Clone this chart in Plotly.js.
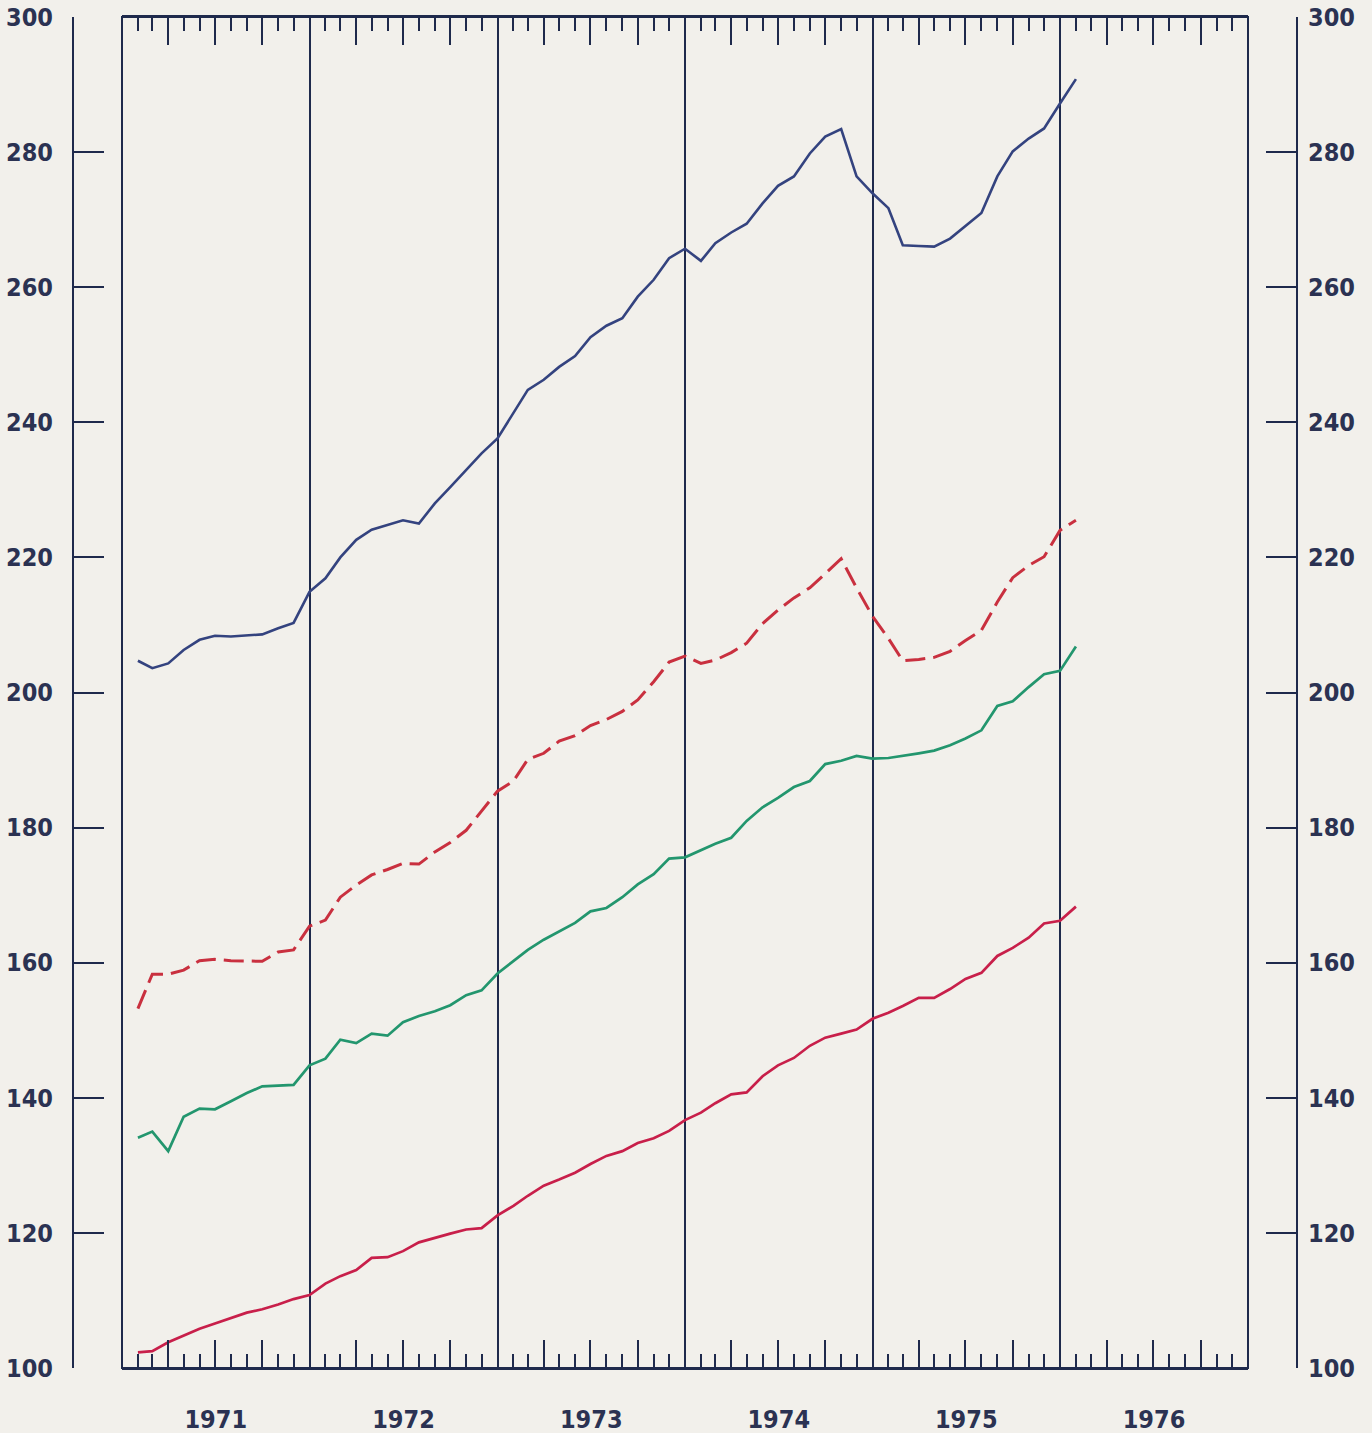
<!DOCTYPE html>
<html>
<head>
<meta charset="utf-8">
<script src="https://cdn.plot.ly/plotly-3.0.1.min.js"></script>
<style>
html,body{margin:0;padding:0;background:#f2f0eb;}
#chart{width:1372px;height:1433px;}
</style>
</head>
<body>
<div id="chart"></div>
<script>
// Monthly values, Jan 1971 .. Jan 1976 (61 months), each plotted at the end of its month
const startYear = 1971;
const blueSeries = [
  204.7,203.6,204.3,206.3,207.8,208.4,208.3,208.4,208.6,209.5,210.3,214.9,
  216.9,220.0,222.6,224.1,224.8,225.5,225.0,228.0,230.4,232.9,235.4,237.6,
  241.3,244.8,246.3,248.2,249.8,252.6,254.3,255.4,258.6,261.1,264.3,265.7,
  263.9,266.5,268.1,269.4,272.4,275.0,276.4,279.8,282.3,283.4,276.4,273.9,
  271.7,266.2,266.1,266.0,267.2,269.0,271.0,276.4,280.1,282.0,283.5,287.2,
  290.8
];
const dashedRedSeries = [
  153.2,158.3,158.3,158.9,160.3,160.5,160.3,160.2,160.2,161.6,161.9,165.4,
  166.3,169.7,171.5,173.0,173.8,174.7,174.6,176.4,177.8,179.6,182.5,185.4,
  186.9,190.1,191.0,192.8,193.6,195.1,196.0,197.2,198.9,201.6,204.5,205.4,
  204.3,204.8,205.9,207.3,210.2,212.2,214.0,215.5,217.6,219.8,215.5,211.3,
  208.0,204.7,204.9,205.2,206.1,207.7,209.2,213.4,217.0,218.8,220.1,224.0,
  225.5
];
const greenSeries = [
  134.1,135.0,132.1,137.2,138.4,138.3,139.5,140.7,141.7,141.8,141.9,144.8,
  145.8,148.6,148.1,149.5,149.2,151.2,152.1,152.8,153.7,155.2,155.9,158.4,
  160.2,161.9,163.4,164.6,165.9,167.6,168.1,169.7,171.6,173.1,175.4,175.6,
  176.7,177.6,178.5,181.0,183.0,184.4,186.0,186.9,189.4,189.9,190.6,190.2,
  190.3,190.6,191.0,191.4,192.2,193.2,194.4,198.0,198.7,200.8,202.7,203.2,
  206.8
];
const redSeries = [
  102.3,102.5,103.8,104.8,105.8,106.6,107.4,108.2,108.7,109.4,110.2,110.8,
  112.5,113.6,114.5,116.3,116.4,117.3,118.6,119.3,119.9,120.5,120.7,122.6,
  124.0,125.5,127.0,127.9,128.9,130.2,131.4,132.1,133.3,134.0,135.1,136.7,
  137.8,139.2,140.5,140.8,143.2,144.8,145.9,147.7,148.9,149.5,150.1,151.7,
  152.6,153.6,154.8,154.8,156.1,157.6,158.5,161.0,162.2,163.7,165.8,166.2,
  168.3
];
const yTicks = [100,120,140,160,180,200,220,240,260,280,300];

// month-end positions (start of following month)
const monthEnds = blueSeries.map((_, i) => {
  const d = new Date(Date.UTC(startYear, 1 + i, 1));
  return d.toISOString().slice(0, 10);
});

const NAVY = '#1f2a4c';
const INK = '#2b3252';
const W = 1372, H = 1433;
const xDom = [122 / W, 1248 / W];
const xRange = ['1971-01-01', '1977-01-01'];
const tickFont = {family: 'DejaVu Sans Condensed, DejaVu Sans, sans-serif', size: 25, color: INK, weight: 'bold'};

const traces = [
  {x: monthEnds, y: blueSeries, mode: 'lines', line: {color: '#34437f', width: 2.6}, xaxis: 'x', yaxis: 'y'},
  {x: monthEnds, y: dashedRedSeries, mode: 'lines', line: {color: '#c9303f', width: 3, dash: '20px,8px'}, xaxis: 'x', yaxis: 'y'},
  {x: monthEnds, y: greenSeries, mode: 'lines', line: {color: '#23966e', width: 2.7}, xaxis: 'x2', yaxis: 'y2'},
  {x: monthEnds, y: redSeries, mode: 'lines', line: {color: '#c81f4a', width: 2.7}, xaxis: 'x', yaxis: 'y'}
];

const yCommon = {
  range: [100, 300], tickvals: yTicks, ticktext: yTicks.map(String),
  showline: true, linecolor: NAVY, linewidth: 2,
  ticks: 'inside', ticklen: 30, tickwidth: 2, tickcolor: NAVY,
  showgrid: false, zeroline: false, tickfont: tickFont, fixedrange: true
};

const layout = {
  width: W, height: H,
  margin: {l: 0, r: 0, t: 17, b: H - 1368},
  paper_bgcolor: '#f2f0eb', plot_bgcolor: '#f2f0eb',
  showlegend: false,
  xaxis: {
    type: 'date', range: xRange, domain: xDom, anchor: 'y',
    dtick: 'M12', tick0: '1971-01-01', ticklabelmode: 'period', tickformat: '%Y',
    ticks: '', showgrid: true, gridcolor: NAVY, gridwidth: 2,
    showline: true, linecolor: NAVY, linewidth: 2, mirror: true,
    zeroline: false, tickfont: tickFont, ticklabelstandoff: 28
  },
  xaxis2: {
    type: 'date', range: xRange, domain: xDom, anchor: 'y2', overlaying: 'x',
    dtick: 'M3', tick0: '1971-01-01', ticks: 'inside', ticklen: 28, tickwidth: 2, tickcolor: NAVY,
    minor: {dtick: 'M1', tick0: '1971-01-01', ticks: 'inside', ticklen: 14, tickwidth: 2, tickcolor: NAVY, showgrid: false},
    mirror: 'ticks', showline: false, showgrid: false, showticklabels: false, zeroline: false
  },
  yaxis: Object.assign({}, yCommon, {
    domain: [0, 1], anchor: 'free', position: 73 / W, side: 'left', ticklabelstandoff: 14
  }),
  yaxis2: Object.assign({}, yCommon, {
    domain: [0, 1], anchor: 'free', position: 1297 / W, side: 'right', overlaying: 'y', ticklabelstandoff: 5
  }),
  shapes: [
    {type: 'rect', xref: 'x domain', yref: 'y domain', x0: 0, x1: 1, y0: 0, y1: 1,
     line: {color: NAVY, width: 2}, fillcolor: 'rgba(0,0,0,0)', layer: 'above'}
  ]
};

Plotly.newPlot('chart', traces, layout, {displayModeBar: false, staticPlot: true});
</script>
</body>
</html>
